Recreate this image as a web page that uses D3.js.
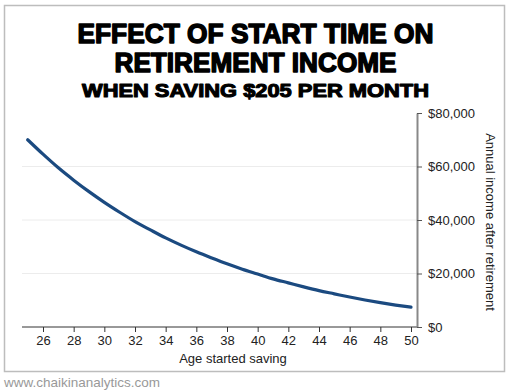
<!DOCTYPE html>
<html><head><meta charset="utf-8">
<script src="https://cdn.jsdelivr.net/npm/d3@7"></script>
<style>body{margin:0;background:#fff}svg{display:block}</style>
</head><body>
<svg id="c" width="510" height="390"></svg>
<script>
const ages = [25,26,27,28,29,30,31,32,33,34,35,36,37,38,39,40,41,42,43,44,45,46,47,48,49,50];
const income = [70000,64600,59500,54900,50600,46600,42900,39400,36300,33300,30600,28100,25800,23600,21600,19800,18000,16500,15000,13600,12400,11200,10100,9100,8200,7400];
const xTicks = [26,28,30,32,34,36,38,40,42,44,46,48,50];
const yTicks = [0,20000,40000,60000,80000];
const titleLines = ["EFFECT OF START TIME ON","RETIREMENT INCOME"];
const subtitle = "WHEN SAVING $205 PER MONTH";
const xLabel = "Age started saving";
const yLabel = "Annual income after retirement";
const source = "www.chaikinanalytics.com";

const svg = d3.select("#c");
const font = "'Liberation Sans', Arial, sans-serif";

// frame
svg.append("rect").attr("x",4.5).attr("y",5.5).attr("width",500).attr("height",366)
  .attr("fill","#fff").attr("stroke","#bdbdbd").attr("stroke-width",1.5);

// titles
function heading(txt, yb, size, len, sw){
  svg.append("text").attr("x",255.5).attr("y",yb).attr("text-anchor","middle")
    .attr("font-family",font).attr("font-weight","bold").attr("font-size",size)
    .attr("textLength",len).attr("lengthAdjust","spacingAndGlyphs")
    .attr("stroke","#000").attr("stroke-width",sw).attr("stroke-linejoin","round")
    .attr("fill","#000").text(txt);
}
heading(titleLines[0], 42.5, 27, 356, 1.5);
heading(titleLines[1], 71.5, 27, 282, 1.5);
heading(subtitle, 96.5, 19, 347, 1.1);

const x = d3.scaleLinear().domain([26,50]).range([43,411]);
const y = d3.scaleLinear().domain([0,80000]).range([327,113]);
const x0 = 22, x1 = 417;

// gridlines
svg.append("g").selectAll("line").data(yTicks.filter(d=>d>0 && d<80000)).join("line")
  .attr("x1",x0).attr("x2",x1).attr("y1",d=>y(d)).attr("y2",d=>y(d))
  .attr("stroke","#ececec").attr("stroke-width",1);

// x axis
const xg = svg.append("g").attr("transform",`translate(0,${y(0)})`);
xg.append("line").attr("x1",x0).attr("x2",x1).attr("stroke","#333").attr("stroke-width",1);
xg.call(d3.axisBottom(x).tickValues(xTicks).tickSize(5).tickSizeOuter(0).tickPadding(4));
xg.select(".domain").remove();
xg.selectAll(".tick line").attr("stroke","#333");
xg.selectAll(".tick text").attr("font-family",font).attr("font-size",13).attr("fill","#222");

// y axis
const yg = svg.append("g").attr("transform",`translate(${x1},0)`);
yg.call(d3.axisRight(y).tickValues(yTicks).tickSize(5).tickSizeOuter(0).tickPadding(6)
  .tickFormat(d=>"$"+d3.format(",")(d)));
yg.select(".domain").attr("stroke","#888").attr("stroke-width",2);
yg.selectAll(".tick line").attr("stroke","#555");
yg.selectAll(".tick text").attr("font-family",font).attr("font-size",13).attr("fill","#222");

// line
const line = d3.line().x((d,i)=>x(ages[i])).y(d=>y(d)).curve(d3.curveMonotoneX);
svg.append("path").datum(income).attr("d",line).attr("fill","none")
  .attr("stroke","#1b4a80").attr("stroke-width",3.2).attr("stroke-linecap","round");

// labels
svg.append("text").attr("x",233).attr("y",363).attr("text-anchor","middle")
  .attr("font-family",font).attr("font-size",13).attr("fill","#222").text(xLabel);
svg.append("text").attr("transform","translate(486,222) rotate(90)").attr("text-anchor","middle")
  .attr("font-family",font).attr("font-size",13).attr("fill","#222").text(yLabel);
svg.append("text").attr("x",4).attr("y",387)
  .attr("font-family",font).attr("font-size",13.5).attr("fill","#999").text(source);
</script>
</body></html>
